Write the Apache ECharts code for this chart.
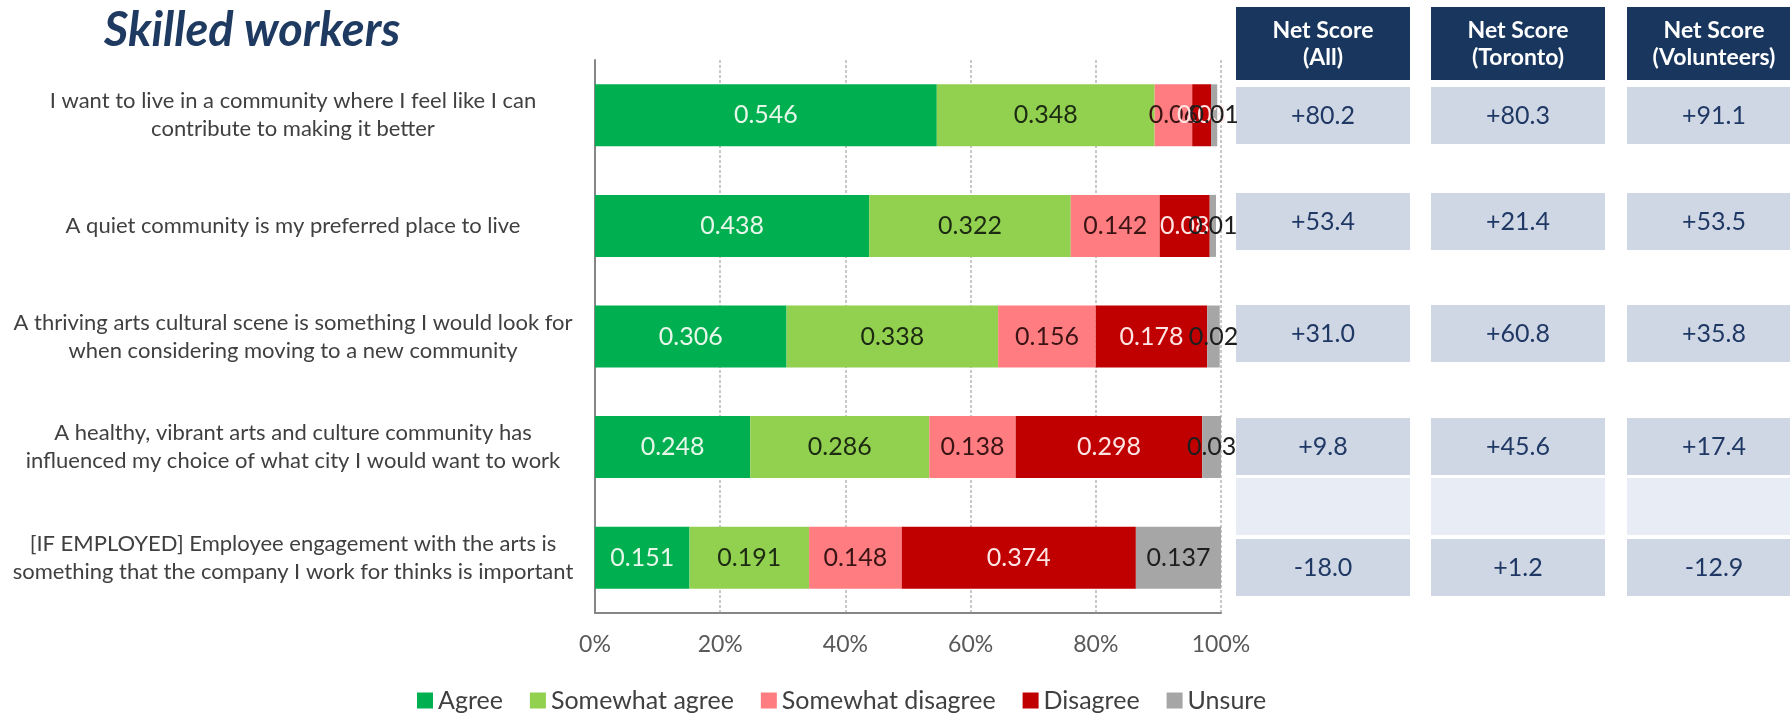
<!DOCTYPE html>
<html>
<head>
<meta charset="utf-8">
<script src="https://cdn.jsdelivr.net/npm/echarts@6/dist/echarts.min.js"></script>
<style>
  html, body { margin: 0; padding: 0; background: #fff; }
  #chart { width: 1790px; height: 714px; }
</style>
</head>
<body>
<div id="chart"></div>
<script>
// statements (top to bottom)
const statements = [
  'I want to live in a community where I feel like I can\ncontribute to making it better',
  'A quiet community is my preferred place to live',
  'A thriving arts cultural scene is something I would look for\nwhen considering moving to a new community',
  'A healthy, vibrant arts and culture community has\ninfluenced my choice of what city I would want to work',
  '[IF EMPLOYED] Employee engagement with the arts is\nsomething that the company I work for thinks is important'
];
const agree = [0.546, 0.438, 0.306, 0.248, 0.151];
const somewhatAgree = [0.348, 0.322, 0.338, 0.286, 0.191];
const somewhatDisagree = [0.06, 0.142, 0.156, 0.138, 0.148];
const disagree = [0.03, 0.08, 0.178, 0.298, 0.374];
const unsure = [0.01, 0.01, 0.02, 0.03, 0.137];

const netHeaders = ['Net Score\n(All)', 'Net Score\n(Toronto)', 'Net Score\n(Volunteers)'];
const netAll = [80.2, 53.4, 31.0, 9.8, -18.0];
const netToronto = [80.3, 21.4, 60.8, 45.6, 1.2];
const netVolunteers = [91.1, 53.5, 35.8, 17.4, -12.9];

const FONT = 'Lato';
const chart = echarts.init(document.getElementById('chart'));

const seriesDefs = [
  { name: 'Agree', data: agree, color: '#00b050', label: '#e6f7ea' },
  { name: 'Somewhat agree', data: somewhatAgree, color: '#92d050', label: '#1c2a12' },
  { name: 'Somewhat disagree', data: somewhatDisagree, color: '#ff7c80', label: '#3a1414' },
  { name: 'Disagree', data: disagree, color: '#c00000', label: '#ffe4e4' },
  { name: 'Unsure', data: unsure, color: '#a6a6a6', label: '#1e1e1e' }
];

// table layout
const colX = [1236, 1431, 1627];
const colW = 174;
const rowTops = [87, 193, 305, 418, 539];
const rowH = 57;
const blankTop = 478;

const fmtNet = v => (v > 0 ? '+' : '') + v.toFixed(1);
const graphics = [];
[netAll, netToronto, netVolunteers].forEach((col, c) => {
  graphics.push({
    type: 'rect', left: colX[c], top: 7,
    shape: { width: colW, height: 73 },
    style: { fill: '#18365e' }
  });
  graphics.push({
    type: 'text', x: colX[c] + colW / 2, y: 44,
    style: {
      text: netHeaders[c], fill: '#fff', font: 'bold 23px ' + FONT,
      align: 'center', verticalAlign: 'middle', lineHeight: 27
    }
  });
  col.forEach((v, r) => {
    graphics.push({
      type: 'rect', left: colX[c], top: rowTops[r],
      shape: { width: colW, height: rowH },
      style: { fill: '#cfd6e4' }
    });
    graphics.push({
      type: 'text', x: colX[c] + colW / 2, y: rowTops[r] + rowH / 2,
      style: {
        text: fmtNet(v), fill: '#1f3864', font: '25px ' + FONT,
        align: 'center', verticalAlign: 'middle'
      }
    });
  });
  graphics.push({
    type: 'rect', left: colX[c], top: blankTop,
    shape: { width: colW, height: rowH },
    style: { fill: '#e8ecf4' }
  });
});

const option = {
  animation: false,
  textStyle: { fontFamily: FONT },
  title: {
    text: 'Skilled workers',
    left: 99, top: 2,
    textStyle: { fontSize: 47, fontWeight: 'bold', fontStyle: 'italic', color: '#1f3a60', fontFamily: FONT }
  },
  legend: {
    left: 412, top: 683,
    icon: 'rect', itemWidth: 16, itemHeight: 16, itemGap: 27,
    textStyle: { fontSize: 25, color: '#404040', fontFamily: FONT },
    data: seriesDefs.map(s => s.name)
  },
  grid: { left: 595, right: 569, top: 60, bottom: 101 },
  xAxis: {
    type: 'value', min: 0, max: 1, interval: 0.2,
    axisLine: { show: true, lineStyle: { color: '#868686', width: 2 } },
    axisTick: { show: false },
    axisLabel: {
      formatter: v => Math.round(v * 100) + '%',
      fontSize: 23, color: '#595959', margin: 20, fontFamily: FONT
    },
    splitLine: { show: true, lineStyle: { color: '#b8b8b8', type: [3, 2], width: 1.5 } }
  },
  yAxis: {
    type: 'category', inverse: true, data: statements,
    axisLine: { show: true, lineStyle: { color: '#868686', width: 2 } },
    axisTick: { show: false },
    axisLabel: {
      align: 'center', margin: 302, fontSize: 22, lineHeight: 28,
      color: '#404040', fontFamily: FONT
    }
  },
  series: seriesDefs.map(s => ({
    name: s.name, type: 'bar', stack: 'total', barWidth: 62,
    data: s.data,
    itemStyle: { color: s.color },
    label: {
      show: true, position: 'inside', fontSize: 25, color: s.label,
      fontFamily: FONT, formatter: p => String(p.value)
    },
    labelLayout: { hideOverlap: false }
  })),
  graphic: graphics
};
chart.setOption(option);
</script>
</body>
</html>
